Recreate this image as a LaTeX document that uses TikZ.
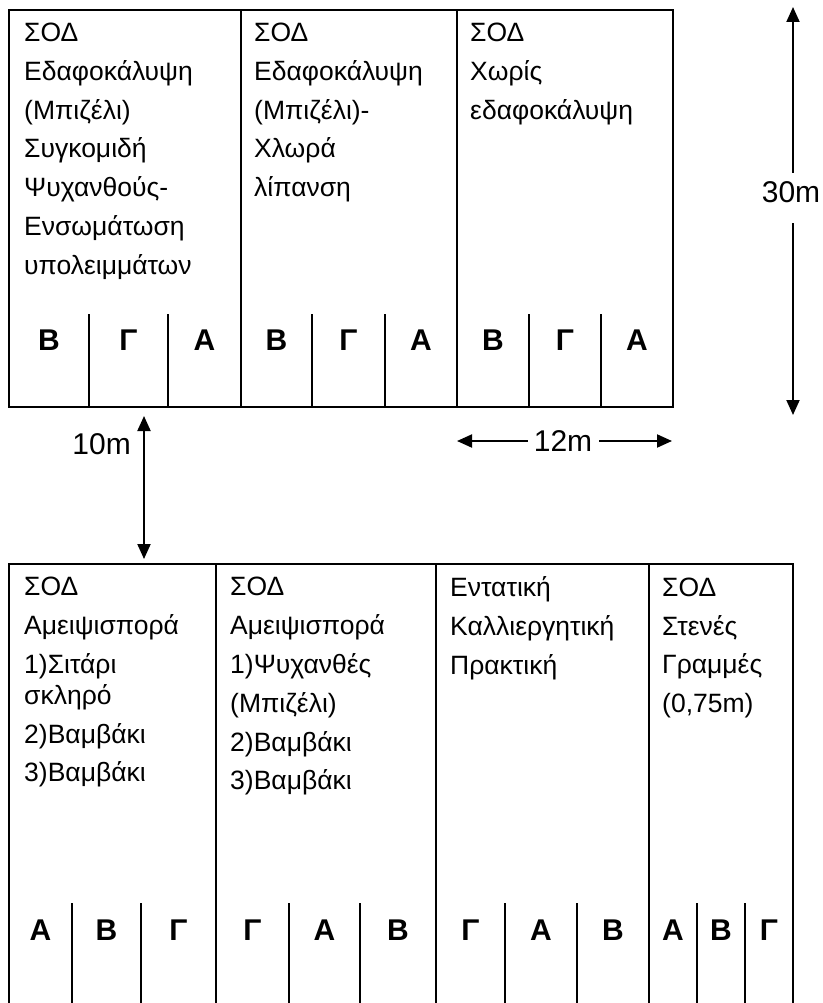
\documentclass[tikz,border=0pt]{standalone}
\usepackage{fontspec}
\setmainfont{Liberation Sans}
\usetikzlibrary{arrows.meta}
\begin{document}
\begin{tikzpicture}[x=1pt,y=-1pt,
  frame/.style={line width=2.3pt},
  divider/.style={line width=2pt},
  subline/.style={line width=1.6pt},
  body/.style={anchor=base west,inner sep=0pt,font=\fontsize{26.5}{32}\selectfont},
  plotletter/.style={anchor=base,inner sep=0pt,font=\fontsize{30}{36}\selectfont\bfseries},
  dimlabel/.style={inner sep=0pt,font=\fontsize{30}{36}\selectfont},
  dimarrow/.style={line width=2pt,-{Triangle[width=13pt,length=15pt]}},
  dimarrows/.style={line width=2pt,{Triangle[width=13pt,length=15pt]}-{Triangle[width=13pt,length=15pt]}}]
\useasboundingbox (0,0) rectangle (822,1003);
\fill[white] (0,0) rectangle (822,1003);

% ---------- top block ----------
\draw[frame] (9,10) rectangle (673,407);
\foreach \x in {241,457} \draw[divider] (\x,10) -- (\x,407);
\foreach \x in {89,168,312,385,529,601} \draw[subline] (\x,314) -- (\x,407);

\foreach \y/\t [count=\i] in {42/ΣΟΔ,80.7/Εδαφοκάλυψη,119.3/(Μπιζέλι),158/Συγκομιδή,196.7/Ψυχανθούς-,235.3/Ενσωμάτωση,274/υπολειμμάτων}
  \node[body] (ta\i) at (24,\y) {\t};
\foreach \y/\t [count=\i] in {42/ΣΟΔ,80.7/Εδαφοκάλυψη,119.3/(Μπιζέλι)-,158/Χλωρά,196.7/λίπανση}
  \node[body] (tb\i) at (254,\y) {\t};
\foreach \y/\t [count=\i] in {42/ΣΟΔ,80.7/Χωρίς,119.3/εδαφοκάλυψη}
  \node[body] (tc\i) at (470,\y) {\t};

\foreach \x/\t [count=\i] in {49/Β,128.5/Γ,204.5/Α,276.5/Β,348.5/Γ,421/Α,493/Β,565/Γ,637/Α}
  \node[plotletter] (tl\i) at (\x,350) {\t};

% ---------- bottom block ----------
\draw[frame] (9,1005) -- (9,564) -- (793,564) -- (793,1005);
\foreach \x in {216,436,649} \draw[divider] (\x,564) -- (\x,1005);
\foreach \x in {72,141,289,360,505,577,697,745} \draw[subline] (\x,903) -- (\x,1005);

\foreach \y/\t [count=\i] in {595/ΣΟΔ,634/Αμειψισπορά,673/1)Σιτάρι,704/σκληρό,743/2)Βαμβάκι,781/3)Βαμβάκι}
  \node[body] (ba\i) at (24,\y) {\t};
\foreach \y/\t [count=\i] in {595/ΣΟΔ,634/Αμειψισπορά,673/1)Ψυχανθές,712/(Μπιζέλι),751/2)Βαμβάκι,789/3)Βαμβάκι}
  \node[body] (bb\i) at (230,\y) {\t};
\foreach \y/\t [count=\i] in {596/Εντατική,635/Καλλιεργητική,674/Πρακτική}
  \node[body] (bc\i) at (450,\y) {\t};
\foreach \y/\t [count=\i] in {596/ΣΟΔ,635/Στενές,673/Γραμμές,712/{(0,75m)}}
  \node[body] (bd\i) at (662,\y) {\t};

\foreach \x/\t [count=\i] in {40.5/Α,106.5/Β,178.5/Γ,252.5/Γ,324.5/Α,398/Β,470.5/Γ,541/Α,613/Β,673/Α,721/Β,769/Γ}
  \node[plotletter] (bl\i) at (\x,940) {\t};

% ---------- dimensions ----------
\coordinate (top30) at (793,7);
\coordinate (bot30) at (793,415);
\node[dimlabel,anchor=base] (t30) at (791,202) {30m};
\draw[dimarrow] ([yshift=8pt]t30.north -| top30) -- (top30);
\draw[dimarrow] ([yshift=-21pt]t30.south -| bot30) -- (bot30);

\coordinate (l12) at (457,441);
\coordinate (r12) at (672,441);
\node[dimlabel,text height=21.5pt,text depth=0pt] (t12) at (563,441) {12m};
\draw[dimarrow] ([xshift=-6pt]t12.west) -- (l12);
\draw[dimarrow] ([xshift=7pt]t12.east) -- (r12);

\coordinate (a10t) at (144,416);
\coordinate (a10b) at (144,559);
\node[dimlabel,anchor=base east] (t10) at (131,454) {10m};
\draw[dimarrows] (a10t) -- (a10b);
\end{tikzpicture}
\end{document}
